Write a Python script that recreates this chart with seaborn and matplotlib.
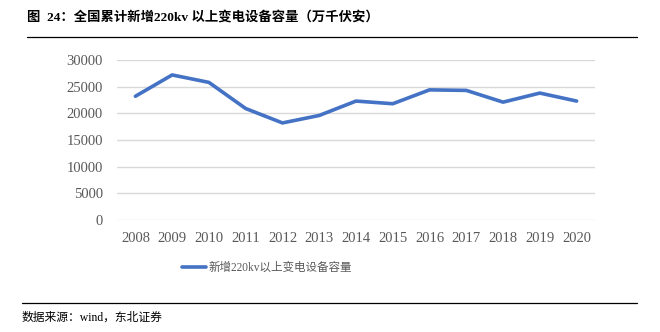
import matplotlib
matplotlib.use("Agg")
import matplotlib.pyplot as plt
import seaborn as sns
import pandas as pd

years = [2008, 2009, 2010, 2011, 2012, 2013, 2014, 2015, 2016, 2017, 2018, 2019, 2020]
capacity = [23200, 27200, 25800, 20900, 18200, 19600, 22300, 21800, 24400, 24300, 22100, 23800, 22300]
series_name = "新增220kv以上变电设备容量"
y_ticks = [0, 5000, 10000, 15000, 20000, 25000, 30000]

sns.set_theme(style="white")
plt.rcParams["font.family"] = ["Liberation Serif", "Noto Sans CJK SC", "DejaVu Sans"]

df = pd.DataFrame({"year": [str(y) for y in years], "value": capacity, "series": series_name})

fig = plt.figure(figsize=(6.6, 3.32), dpi=100)
ax = fig.add_axes([117 / 660, 1 - 220 / 332, (595 - 117) / 660, 160 / 332])

sns.lineplot(data=df, x="year", y="value", hue="series", palette=["#4472C4"],
             linewidth=2.6, ax=ax, sort=False)

ax.set_ylim(0, 30000)
ax.set_xlim(-0.5, len(years) - 0.5)
ax.set_yticks(y_ticks)
ax.set_yticklabels([str(t) for t in y_ticks])
ax.yaxis.grid(True, color="#D9D9D9", linewidth=1.0)
ax.xaxis.grid(False)
for s in ax.spines.values():
    s.set_visible(False)
ax.tick_params(axis="both", length=0, labelsize=10.5, labelcolor="#595959")
ax.tick_params(axis="x", pad=9)
ax.tick_params(axis="y", pad=10)
ax.set_xlabel("")
ax.set_ylabel("")

handles, labels = ax.get_legend_handles_labels()
ax.legend(handles, labels, loc="center", bbox_to_anchor=(267 / 660, 1 - 268 / 332),
          bbox_transform=fig.transFigure, frameon=False, handlelength=2.1,
          handletextpad=0.15, prop={"size": 8.3},
          labelcolor="#595959")

# header and footer
fig.text(27 / 660, 1 - 17 / 332, "图  24：全国累计新增220kv 以上变电设备容量（万千伏安）",
         fontsize=9.6, fontweight="bold", va="center", ha="left", color="#000000")
fig.add_artist(plt.Line2D([27 / 660, 637 / 660], [1 - 37 / 332, 1 - 37 / 332],
                          color="#000000", linewidth=0.9))
fig.add_artist(plt.Line2D([22 / 660, 637 / 660], [1 - 303 / 332, 1 - 303 / 332],
                          color="#000000", linewidth=0.9))
fig.text(22 / 660, 1 - 318 / 332, "数据来源：wind，东北证券",
         fontsize=8.5, va="center", ha="left", color="#000000")

fig.savefig("out.png", dpi=100, facecolor="white")
